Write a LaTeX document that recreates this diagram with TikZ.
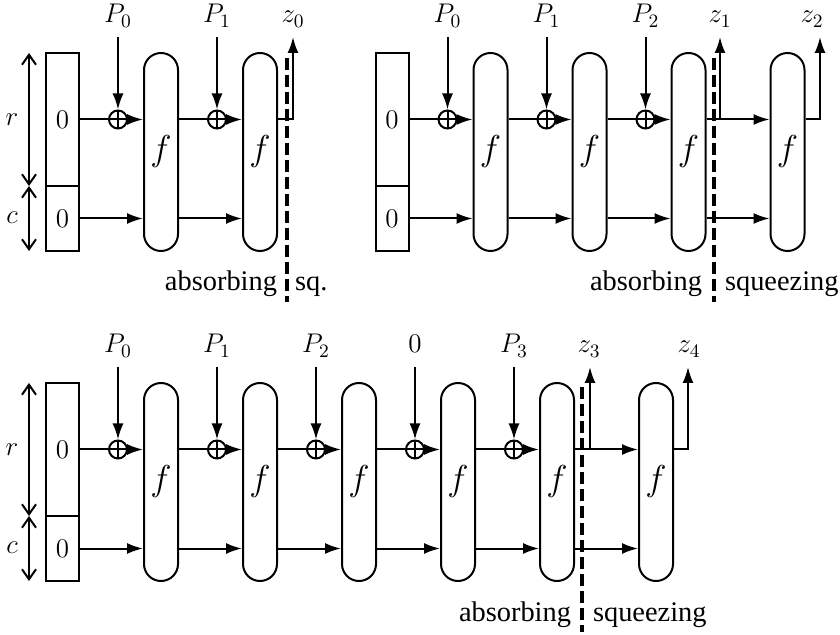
\RequirePackage{fix-cm}
\documentclass[tikz,border=0pt]{standalone}
\usepackage[no-math]{fontspec}
\newfontfamily\phasefont{Liberation Serif}
\usetikzlibrary{arrows.meta}
\tikzset{
  reg/.style={draw,minimum width=16.5pt,inner sep=0pt,font=\fontsize{13.5}{16}\selectfont},
  perm/.style={draw,rounded corners=8.5pt,minimum width=17pt,minimum height=99pt,inner sep=0pt,font=\fontsize{18}{21}\selectfont},
  xorn/.style={draw,circle,minimum size=9pt,inner sep=0pt,
    path picture={\draw (path picture bounding box.north)--(path picture bounding box.south)
      (path picture bounding box.west)--(path picture bounding box.east);}},
  lbl/.style={anchor=base,font=\fontsize{13.5}{16}\selectfont},
  flow/.style={-{Latex[length=8pt,width=5.5pt]}},
  span/.style={{Straight Barb[length=5pt,width=7pt]}-{Straight Barb[length=5pt,width=7pt]}},
  cut/.style={line width=2pt,dash pattern=on 6pt off 2.5pt},
  phase/.style={font=\phasefont\fontsize{14.2}{17}\selectfont,inner sep=0pt}
}
\begin{document}
\begin{tikzpicture}[x=0.5pt,y=-0.5pt,line width=1pt]
\useasboundingbox (0,0) rectangle (840,635);
% top left: two absorbing calls
\begin{scope}
\coordinate (a-top) at (29,53); \coordinate (a-mid) at (29,186); \coordinate (a-bot) at (29,251);
\draw[span] (a-top) -- (a-mid); \draw[span] (a-mid) -- (a-bot);
\node[lbl,anchor=center] (a-lr) at (12,120) {$r$}; \node[lbl,anchor=center] (a-lc) at (12,218) {$c$};
\node[reg,minimum height=66.5pt] (a-r) at (62.5,119.5) {$0$};
\node[reg,minimum height=32.5pt] (a-c) at (62.5,218.5) {$0$};
\foreach \i in {1,2} \node[perm] (a-f\i) at ({161+99*(\i-1)},152) {$f$};
\foreach \i/\p in {1/P_0,2/P_1} {
  \node[xorn] (a-x\i) at ({118+99*(\i-1)},119.5) {};
  \node[lbl] (a-p\i) at ({118+99*(\i-1)},23) {$\p$};
  \coordinate (a-in\i) at ({118+99*(\i-1)},37);
  \draw[flow] (a-in\i) -- (a-x\i);
}
\draw (a-r) -- (a-x1);
\draw[flow] (a-x1) -- (a-x1 -| a-f1.west);
\draw[flow] (a-c) -- (a-c -| a-f1.west);
\foreach \i/\j in {1/2} {
  \draw (a-f\i.east |- a-x\j) -- (a-x\j);
  \draw[flow] (a-x\j) -- (a-x\j -| a-f\j.west);
  \draw[flow] (a-f\i.east |- a-c) -- (a-c -| a-f\j.west);
}
\coordinate (a-z0) at (293,37);
\draw[flow] (a-f2.east |- a-r) -| (a-z0);
\node[lbl] (a-lz0) at (293,23) {$z_0$};
\coordinate (a-cut1) at (287,58); \coordinate (a-cut2) at (287,302);
\draw[cut] (a-cut1) -- (a-cut2);
\node[phase,anchor=base east] (a-abs) at (278,291) {absorbing};
\node[phase,anchor=base west] (a-sq) at (294,291) {sq.};
\end{scope}
% top right: three absorbing calls, one squeeze
\begin{scope}[shift={(329.5,0)}]
\node[reg,minimum height=66.5pt] (b-r) at (62.5,119.5) {$0$};
\node[reg,minimum height=32.5pt] (b-c) at (62.5,218.5) {$0$};
\foreach \i in {1,...,4} \node[perm] (b-f\i) at ({161+99*(\i-1)},152) {$f$};
\foreach \i/\p in {1/P_0,2/P_1,3/P_2} {
  \node[xorn] (b-x\i) at ({118+99*(\i-1)},119.5) {};
  \node[lbl] (b-p\i) at ({118+99*(\i-1)},23) {$\p$};
  \coordinate (b-in\i) at ({118+99*(\i-1)},37);
  \draw[flow] (b-in\i) -- (b-x\i);
}
\draw (b-r) -- (b-x1);
\draw[flow] (b-x1) -- (b-x1 -| b-f1.west);
\draw[flow] (b-c) -- (b-c -| b-f1.west);
\foreach \i/\j in {1/2,2/3} {
  \draw (b-f\i.east |- b-x\j) -- (b-x\j);
  \draw[flow] (b-x\j) -- (b-x\j -| b-f\j.west);
  \draw[flow] (b-f\i.east |- b-c) -- (b-c -| b-f\j.west);
}
\draw[flow] (b-f3.east |- b-r) -- (b-r -| b-f4.west);
\draw[flow] (b-f3.east |- b-c) -- (b-c -| b-f4.west);
\coordinate (b-tap) at (390.5,119.5); \coordinate (b-z1) at (390.5,37);
\draw[flow] (b-tap) -- (b-z1);
\coordinate (b-z2) at (490.5,37);
\draw[flow] (b-f4.east |- b-r) -| (b-z2);
\node[lbl] (b-lz1) at (390.5,23) {$z_1$};
\node[lbl] (b-lz2) at (482.5,23) {$z_2$};
\coordinate (b-cut1) at (384.5,58); \coordinate (b-cut2) at (384.5,302);
\draw[cut] (b-cut1) -- (b-cut2);
\node[phase,anchor=base east] (b-abs) at (373.5,291) {absorbing};
\node[phase,anchor=base west] (b-sq) at (394.5,291) {squeezing};
\end{scope}
% bottom: five absorbing calls, one squeeze
\begin{scope}[shift={(0,330)}]
\coordinate (c-top) at (29,53); \coordinate (c-mid) at (29,186); \coordinate (c-bot) at (29,251);
\draw[span] (c-top) -- (c-mid); \draw[span] (c-mid) -- (c-bot);
\node[lbl,anchor=center] (c-lr) at (12,120) {$r$}; \node[lbl,anchor=center] (c-lc) at (12,218) {$c$};
\node[reg,minimum height=66.5pt] (c-r) at (62.5,119.5) {$0$};
\node[reg,minimum height=32.5pt] (c-c) at (62.5,218.5) {$0$};
\foreach \i in {1,...,6} \node[perm] (c-f\i) at ({161+99*(\i-1)},152) {$f$};
\foreach \i/\p in {1/P_0,2/P_1,3/P_2,4/0,5/P_3} {
  \node[xorn] (c-x\i) at ({118+99*(\i-1)},119.5) {};
  \node[lbl] (c-p\i) at ({118+99*(\i-1)},23) {$\p$};
  \coordinate (c-in\i) at ({118+99*(\i-1)},37);
  \draw[flow] (c-in\i) -- (c-x\i);
}
\draw (c-r) -- (c-x1);
\draw[flow] (c-x1) -- (c-x1 -| c-f1.west);
\draw[flow] (c-c) -- (c-c -| c-f1.west);
\foreach \i/\j in {1/2,2/3,3/4,4/5} {
  \draw (c-f\i.east |- c-x\j) -- (c-x\j);
  \draw[flow] (c-x\j) -- (c-x\j -| c-f\j.west);
  \draw[flow] (c-f\i.east |- c-c) -- (c-c -| c-f\j.west);
}
\draw[flow] (c-f5.east |- c-r) -- (c-r -| c-f6.west);
\draw[flow] (c-f5.east |- c-c) -- (c-c -| c-f6.west);
\coordinate (c-tap) at (590,119.5); \coordinate (c-z3) at (590,37);
\draw[flow] (c-tap) -- (c-z3);
\coordinate (c-z4) at (688,37);
\draw[flow] (c-f6.east |- c-r) -| (c-z4);
\node[lbl] (c-lz3) at (589,23) {$z_3$};
\node[lbl] (c-lz4) at (689,23) {$z_4$};
\coordinate (c-cut1) at (582,57); \coordinate (c-cut2) at (582,302);
\draw[cut] (c-cut1) -- (c-cut2);
\node[phase,anchor=base east] (c-abs) at (572,291) {absorbing};
\node[phase,anchor=base west] (c-sq) at (592,291) {squeezing};
\end{scope}
\end{tikzpicture}
\end{document}
